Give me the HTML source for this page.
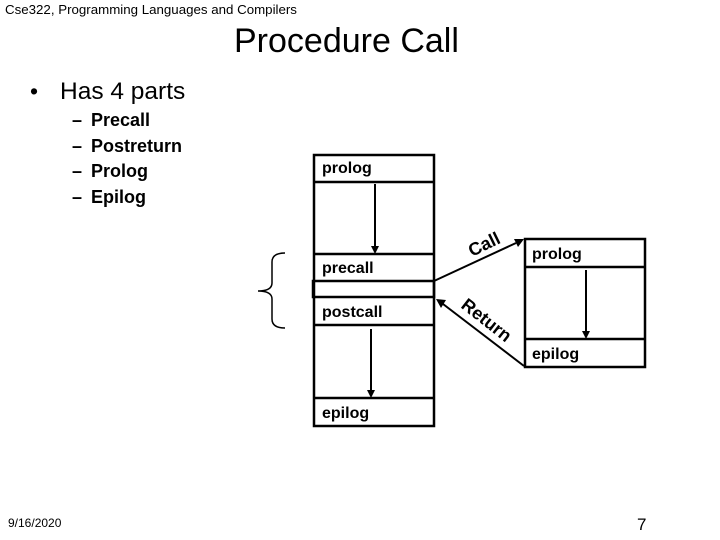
<!DOCTYPE html>
<html><head><meta charset="utf-8"><style>
body{margin:0;width:720px;height:540px;background:#fff;position:relative;overflow:hidden;font-family:"Liberation Sans",sans-serif;color:#000}
.a{position:absolute;white-space:nowrap}
.l{position:absolute;font-size:18px;font-weight:bold}
</style></head><body>
<div class="a" style="left:5px;top:2px;font-size:13.3px">Cse322, Programming Languages and Compilers</div>
<div class="a" style="left:234px;top:22px;font-size:34px">Procedure Call</div>
<div class="a" style="left:30px;top:78px;font-size:23px">•</div>
<div class="a" style="left:60px;top:78px;font-size:24.5px">Has 4 parts</div>
<div class="l" style="left:72px;top:110px">–</div><div class="l" style="left:91px;top:110px">Precall</div>
<div class="l" style="left:72px;top:136px">–</div><div class="l" style="left:91px;top:136px">Postreturn</div>
<div class="l" style="left:72px;top:161px">–</div><div class="l" style="left:91px;top:161px">Prolog</div>
<div class="l" style="left:72px;top:187px">–</div><div class="l" style="left:91px;top:187px">Epilog</div>
<div class="a" style="left:8px;top:516px;font-size:12px">9/16/2020</div>
<div class="a" style="left:637px;top:515px;font-size:17px">7</div>
<svg class="a" style="left:0;top:0" width="720" height="540">
<g fill="none" stroke="#000" stroke-width="2.5">
<rect x="314" y="155" width="120" height="271"/>
<line x1="314" y1="182" x2="434" y2="182"/>
<line x1="314" y1="254" x2="434" y2="254"/>
<rect x="313" y="281" width="121" height="16"/>
<line x1="314" y1="325" x2="434" y2="325"/>
<line x1="314" y1="398" x2="434" y2="398"/>
<rect x="525" y="239" width="120" height="128"/>
<line x1="525" y1="267" x2="645" y2="267"/>
<line x1="525" y1="339" x2="645" y2="339"/>
</g>
<g stroke="#000" stroke-width="2">
<line x1="375" y1="184" x2="375" y2="246"/>
<line x1="371" y1="329" x2="371" y2="390"/>
<line x1="586" y1="270" x2="586" y2="331"/>
<line x1="434" y1="281" x2="516" y2="243"/>
<line x1="524" y1="366" x2="443" y2="304"/>
</g>
<g fill="#000">
<polygon points="371,246 379,246 375,254"/>
<polygon points="367,390 375,390 371,398"/>
<polygon points="582,331 590,331 586,339"/>
<polygon points="524,239 514,239 518,247"/>
<polygon points="436,299 441,308 446,300"/>
</g>
<path d="M285,253 Q272,253 272,262 L272,283 Q272,291 258,291 Q272,291 272,299 L272,319 Q272,328 285,328" fill="none" stroke="#000" stroke-width="1.5"/>
<g font-family="Liberation Sans, sans-serif" font-size="16" font-weight="bold" fill="#000">
<text x="322" y="173">prolog</text>
<text x="322" y="273">precall</text>
<text x="322" y="317">postcall</text>
<text x="322" y="418">epilog</text>
<text x="532" y="259">prolog</text>
<text x="532" y="359">epilog</text>
<text x="472" y="257" font-size="18" transform="rotate(-26 472 257)">Call</text>
<text x="460" y="307" font-size="18" transform="rotate(38 460 307)">Return</text>
</g>
</svg>
</body></html>
